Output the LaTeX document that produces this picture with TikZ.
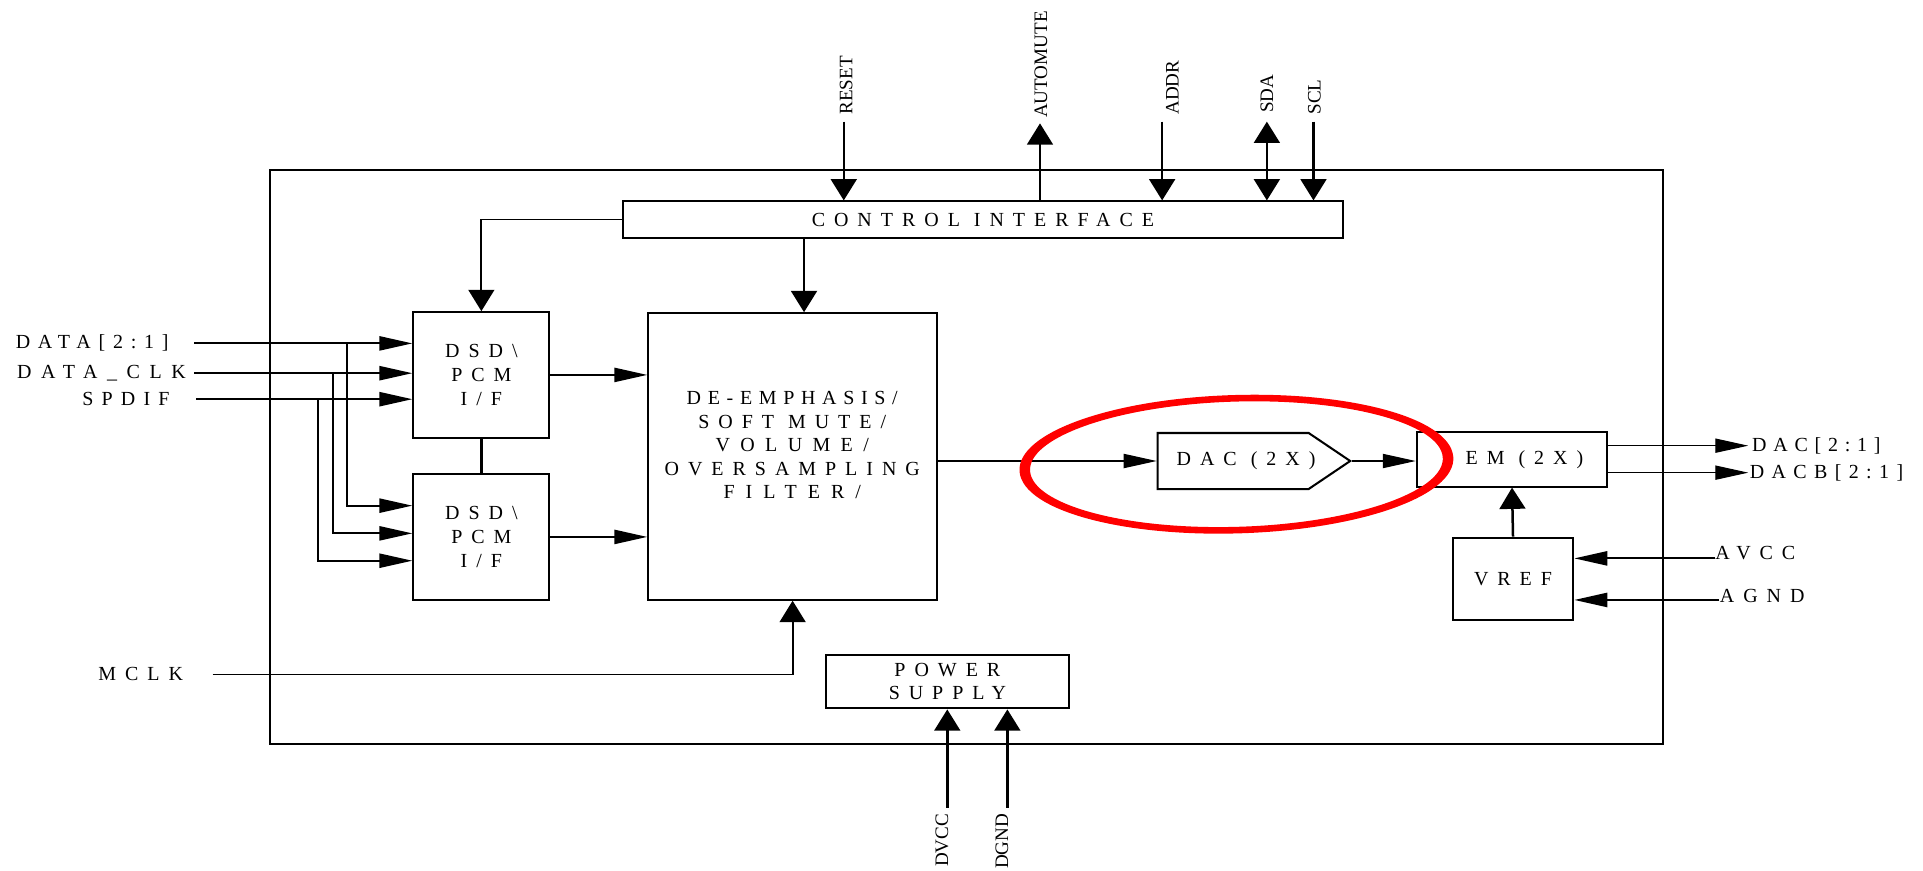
\documentclass[tikz,border=0pt]{standalone}
\usepackage{fontspec}
\setmainfont{Liberation Serif}
\newfontfamily\spacedfont[LetterSpace=45]{Liberation Serif}
\usetikzlibrary{arrows.meta, shapes.symbols, calc}

% one unit of the picture
\newcommand{\un}{0.019cm}
\newcommand{\boxfont}{\spacedfont\fontsize{8.8}{10.4}\selectfont}
\newcommand{\pinfont}{\fontsize{8.4}{10}\selectfont}
% text with its own letter spacing
\newcommand{\lsp}[2]{{\addfontfeature{LetterSpace=#1}#2}}

\tikzset{
  blk/.style={draw, line width=0.9pt, inner sep=0pt, align=center, font=\boxfont},
  pinlbl/.style={inner sep=0pt, font=\boxfont},
  vpinlbl/.style={inner sep=0pt, rotate=90, font=\pinfont},
  wire/.style={line width=0.8pt},
  vwire/.style={line width=1.1pt},
  thinwire/.style={line width=0.5pt},
  harrow/.style={-{Triangle[length=0.51cm, width=0.22cm]}},
  varrow/.style={-{Triangle[length=0.33cm, width=0.40cm]}},
  vboth/.style={{Triangle[length=0.33cm, width=0.40cm]}-{Triangle[length=0.33cm, width=0.40cm]}},
}

\begin{document}
\begin{tikzpicture}[x=\un, y=-\un]
    \useasboundingbox (0,0) rectangle (1568,710);

    % Outer frame of the chip
    \draw[line width=0.8pt] (220,138.6) rectangle (1356.3,606.6);

    % Create the blocks
    \node[blk, minimum width=587*\un, minimum height=29.5*\un] (ci) at (801.5,179) {CONTROL INTERFACE};
    \node[blk, minimum width=111*\un, minimum height=102.3*\un] (dsdA) at (392.5,305.7) {DSD\textbackslash\\PCM\\I/F};
    \node[blk, minimum width=111*\un, minimum height=102.3*\un] (dsdB) at (392.5,437.8) {DSD\textbackslash\\PCM\\I/F};
    \node[blk, minimum width=235.5*\un, minimum height=233.6*\un] (demph) at (646.3,372.2) {};
    \node[pinlbl, align=center, font=\boxfont] (demphtxt) at (646,363) {\lsp{33.5}{DE-EMPHASIS/}\\SOFT MUTE/\\\lsp{52}{VOLUME/}\\OVERSAMPLING\\\lsp{55}{FILTER/}};
    \node[blk, shape=signal, signal to=east, signal pointer angle=68, minimum width=157*\un, minimum height=45.7*\un] (dac) at (1005.5,375.9) {};
    \node[pinlbl] (dactxt) at (1016,376) {DAC (2X)};
    \node[blk, minimum width=155.4*\un, minimum height=44.3*\un] (em) at (1232.9,374.6) {};
    \node[pinlbl] (emtxt) at (1243,375) {EM (2X)};
    \node[blk, minimum width=98.4*\un, minimum height=67.1*\un] (vref) at (1233.7,472) {VREF};
    \node[blk, minimum width=198.5*\un, minimum height=43.6*\un] (psu) at (772.5,555.8) {POWER\\SUPPLY};

    % Pins on top of the control interface
    \coordinate (resetpin) at (688,99.2);
    \coordinate (mutepin) at (848,100.6);
    \coordinate (addrpin) at (947.6,99.2);
    \coordinate (sdapin) at (1033,99.2);
    \coordinate (sclpin) at (1071,99.2);
    \draw[vwire, varrow] (resetpin) -- (resetpin |- ci.north);
    \draw[vwire, varrow] (mutepin |- ci.north) -- (mutepin);
    \draw[vwire, varrow] (addrpin) -- (addrpin |- ci.north);
    \draw[vwire, vboth] (sdapin) -- (sdapin |- ci.north);
    \draw[vwire, varrow] (sclpin) -- (sclpin |- ci.north);
    \node[vpinlbl, anchor=west] (resetlbl) at (690,93.8) {RESET};
    \node[vpinlbl, anchor=west] (mutelbl) at (848.7,96.5) {AUTOMUTE};
    \node[vpinlbl, anchor=west] (addrlbl) at (956,93.8) {ADDR};
    \node[vpinlbl, anchor=west] (sdalbl) at (1033,92.4) {SDA};
    \node[vpinlbl, anchor=west] (scllbl) at (1071.7,93.8) {SCL};

    % Control interface to the inner blocks
    \draw[wire, varrow] (ci.west) -| (dsdA.north);
    \coordinate (demphin) at ($(demph.north)+(9.3,0)$);
    \draw[vwire, varrow] (ci.south -| demphin) -- (demphin);

    % Data inputs
    \coordinate (datapin) at (158.3,280);
    \coordinate (clkpin) at (158.3,304.3);
    \coordinate (spdifpin) at (160,325.5);
    \draw[wire, harrow] (datapin) -- (datapin -| dsdA.west);
    \draw[wire, harrow] (clkpin) -- (clkpin -| dsdA.west);
    \draw[wire, harrow] (spdifpin) -- (spdifpin -| dsdA.west);
    \node[pinlbl, anchor=west] (datalbl) at (12.5,280) {\lsp{39}{DATA[2:1]}};
    \node[pinlbl, anchor=west] (clklbl) at (13.6,304.3) {\lsp{48}{DATA\_CLK}};
    \node[pinlbl, anchor=west] (spdiflbl) at (66.8,325.5) {\lsp{41}{SPDIF}};

    % Branches down to the second interface
    \coordinate (databr) at (283.2,280);
    \coordinate (clkbr) at (271.6,304.3);
    \coordinate (spdifbr) at (259.5,325.5);
    \draw[wire, harrow] (databr) |- ($(dsdB.west)+(0,-25.5)$);
    \draw[wire, harrow] (clkbr) |- ($(dsdB.west)+(0,-2.9)$);
    \draw[wire, harrow] (spdifbr) |- ($(dsdB.west)+(0,19.4)$);

    % Interfaces to the filter
    \draw[vwire] (dsdA.south) -- (dsdB.north);
    \draw[wire, harrow] (dsdA.east) -- (dsdA.east -| demph.west);
    \draw[wire, harrow] (dsdB.east) -- (dsdB.east -| demph.west);

    % Master clock
    \coordinate (mclkpin) at (173.4,550);
    \draw[wire, varrow] (mclkpin) -| (demph.south);
    \node[pinlbl, anchor=west] (mclklbl) at (79.8,549.6) {MCLK};

    % Analog path
    \draw[thinwire, harrow] (demph.east |- dac.west) -- (dac.west);
    \draw[thinwire, harrow] (dac.east) -- (dac.east -| em.west);
    \coordinate (dacpin) at (1425.5,363.4);
    \coordinate (dacbpin) at (1425.5,385.4);
    \draw[thinwire, harrow] (em.east |- dacpin) -- (dacpin);
    \draw[thinwire, harrow] (em.east |- dacbpin) -- (dacbpin);
    \node[pinlbl, anchor=west] (daclbl) at (1428.3,363.4) {\lsp{34}{DAC[2:1]}};
    \node[pinlbl, anchor=west] (dacblbl) at (1426.4,385.4) {\lsp{37}{DACB[2:1]}};

    % Reference
    \draw[vwire, varrow] (vref.north) -- (em.south);
    \coordinate (avccpin) at (1398.4,455.3);
    \coordinate (agndpin) at (1402,489.2);
    \draw[wire, harrow] (avccpin) -- (avccpin -| vref.east);
    \draw[wire, harrow] (agndpin) -- (agndpin -| vref.east);
    \node[pinlbl, anchor=west] (avcclbl) at (1398.4,451) {AVCC};
    \node[pinlbl, anchor=west] (agndlbl) at (1402,485.7) {AGND};

    % Supply pins
    \coordinate (dvccpin) at (772.4,658.6);
    \coordinate (dgndpin) at (821.4,658.6);
    \draw[vwire, varrow] (dvccpin) -- (dvccpin |- psu.south);
    \draw[vwire, varrow] (dgndpin) -- (dgndpin |- psu.south);
    \node[vpinlbl, anchor=east] (dvcclbl) at (768,663.2) {DVCC};
    \node[vpinlbl, anchor=east] (dgndlbl) at (817,663.2) {DGND};

    % Highlight round the converter, drawn squeezed and then stretched
    \draw[red, line width=2.9pt, transform canvas={xscale=1.6}, rotate around={3.2:(630.1,378.5)}] (630.1,378.5) ellipse [x radius=108, y radius=53.7];
\end{tikzpicture}
\end{document}
